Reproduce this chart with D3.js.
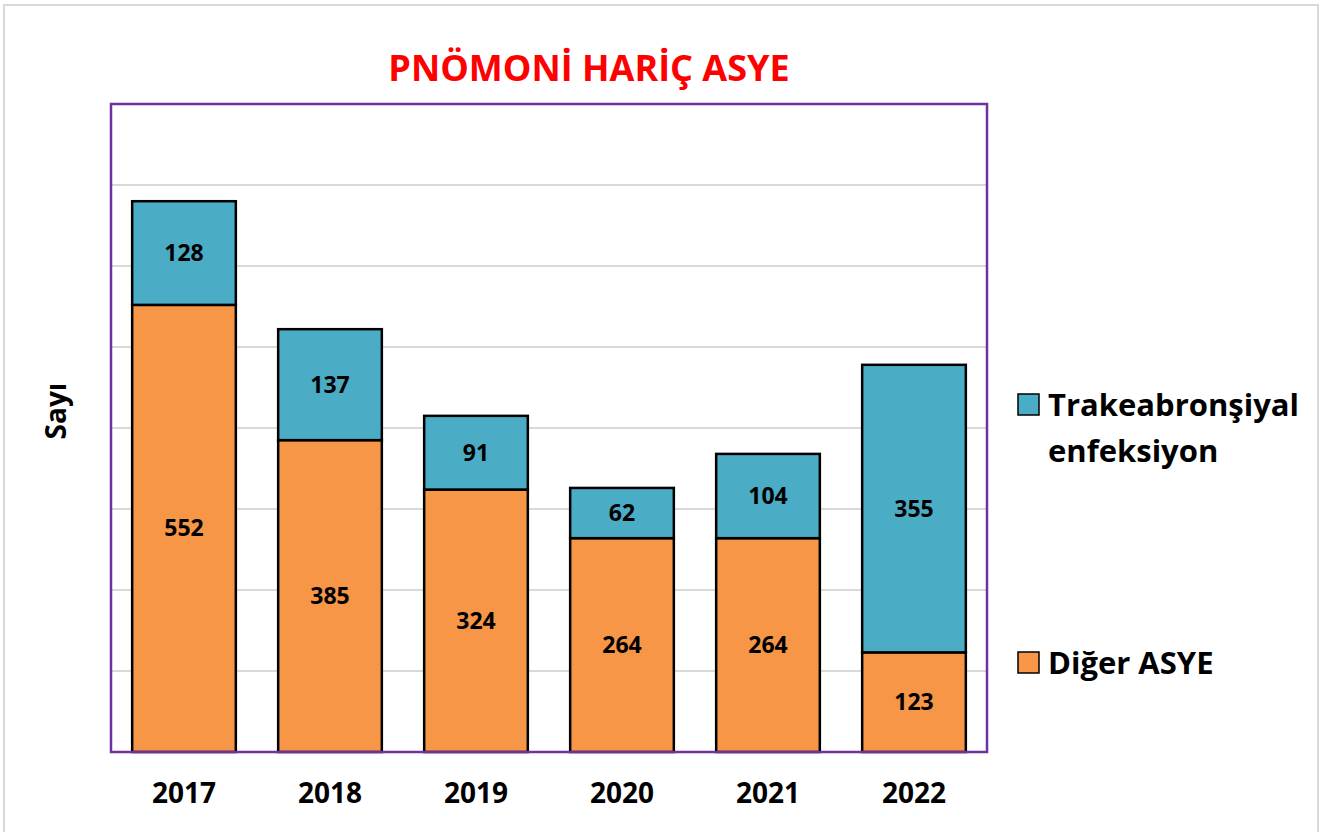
<!DOCTYPE html>
<html>
<head>
<meta charset="utf-8">
<script src="https://cdn.jsdelivr.net/npm/d3@7"></script>
<style>
  body { margin: 0; background: #fff; }
  svg text { font-family: "Open Sans", Lato, sans-serif; font-weight: bold; }
</style>
</head>
<body>
<svg id="chart" width="1325" height="832"></svg>
<script>
var years = ["2017", "2018", "2019", "2020", "2021", "2022"]
var diger = [552, 385, 324, 264, 264, 123]
var trakea = [128, 137, 91, 62, 104, 355]
var gridTicks = [100, 200, 300, 400, 500, 600, 700]
var seriesNames = ["Diğer ASYE", "Trakeabronşiyal enfeksiyon"]
var colors = ["#F79646", "#4BACC6"]

var svg = d3.select("#chart")

// outer frame
svg.append("rect")
  .attr("x", 4).attr("y", 5).attr("width", 1314).attr("height", 840)
  .attr("fill", "none").attr("stroke", "#d9d9d9").attr("stroke-width", 2)

var plot = { left: 111, top: 104, right: 987, bottom: 752 }

var x = d3.scaleBand()
  .domain(years)
  .range([plot.left, plot.right])
  .paddingInner(0.29)
  .paddingOuter(0.145)

var y = d3.scaleLinear()
  .domain([0, 800])
  .range([plot.bottom, plot.top])

// gridlines
svg.selectAll(".grid")
  .data(gridTicks)
  .enter().append("line")
  .attr("x1", plot.left).attr("x2", plot.right)
  .attr("y1", function(d){ return y(d) })
  .attr("y2", function(d){ return y(d) })
  .attr("stroke", "#d9d9d9").attr("stroke-width", 2)

var rows = years.map(function(yr, i){
  return { year: yr, diger: diger[i], trakea: trakea[i] }
})
var stack = d3.stack().keys(["diger", "trakea"])(rows)

var layers = svg.selectAll(".layer")
  .data(stack)
  .enter().append("g")
  .attr("fill", function(d, i){ return colors[i] })

layers.selectAll("rect")
  .data(function(d){ return d })
  .enter().append("rect")
  .attr("x", function(d){ return x(d.data.year) })
  .attr("width", x.bandwidth())
  .attr("y", function(d){ return y(d[1]) })
  .attr("height", function(d){ return y(d[0]) - y(d[1]) })
  .attr("stroke", "#000").attr("stroke-width", 2.5)

layers.selectAll("text")
  .data(function(d){ return d })
  .enter().append("text")
  .attr("x", function(d){ return x(d.data.year) + x.bandwidth() / 2 })
  .attr("y", function(d){ return (y(d[0]) + y(d[1])) / 2 })
  .attr("dy", "0.35em")
  .attr("text-anchor", "middle")
  .attr("font-size", 23)
  .attr("fill", "#000")
  .text(function(d){ return d[1] - d[0] })

// plot border
svg.append("rect")
  .attr("x", plot.left).attr("y", plot.top)
  .attr("width", plot.right - plot.left).attr("height", plot.bottom - plot.top)
  .attr("fill", "none").attr("stroke", "#7030A0").attr("stroke-width", 2.5)

// x axis labels
var xAxis = svg.append("g")
  .attr("transform", "translate(0," + plot.bottom + ")")
  .call(d3.axisBottom(x).tickSize(0).tickPadding(31))
xAxis.select(".domain").remove()
xAxis.selectAll("text")
  .attr("font-size", 28).attr("fill", "#000")
  .style("font-family", "'Open Sans', Lato, sans-serif").style("font-weight", "bold")

// title
svg.append("text")
  .attr("x", 589).attr("y", 81)
  .attr("text-anchor", "middle")
  .attr("font-size", 36).attr("fill", "#FF0000")
  .text("PNÖMONİ HARİÇ ASYE")

// y axis title
svg.append("text")
  .attr("transform", "translate(66,411) rotate(-90)")
  .attr("text-anchor", "middle")
  .attr("font-size", 28).attr("fill", "#000")
  .text("Sayı")

// legend
var legend = [
  { name: seriesNames[1], color: colors[1], y: 416, lines: ["Trakeabronşiyal", "enfeksiyon"] },
  { name: seriesNames[0], color: colors[0], y: 674, lines: ["Diğer ASYE"] }
]
var lg = svg.selectAll(".legend")
  .data(legend)
  .enter().append("g")
  .attr("transform", function(d){ return "translate(1018," + d.y + ")" })
lg.append("rect")
  .attr("x", 0).attr("y", -22).attr("width", 21).attr("height", 21)
  .attr("fill", function(d){ return d.color })
  .attr("stroke", "#000").attr("stroke-width", 1.5)
lg.append("text")
  .attr("font-size", 31).attr("fill", "#000")
  .selectAll("tspan")
  .data(function(d){ return d.lines })
  .enter().append("tspan")
  .attr("x", 30)
  .attr("y", function(d, i){ return i * 46 })
  .text(function(d){ return d })
</script>
</body>
</html>
